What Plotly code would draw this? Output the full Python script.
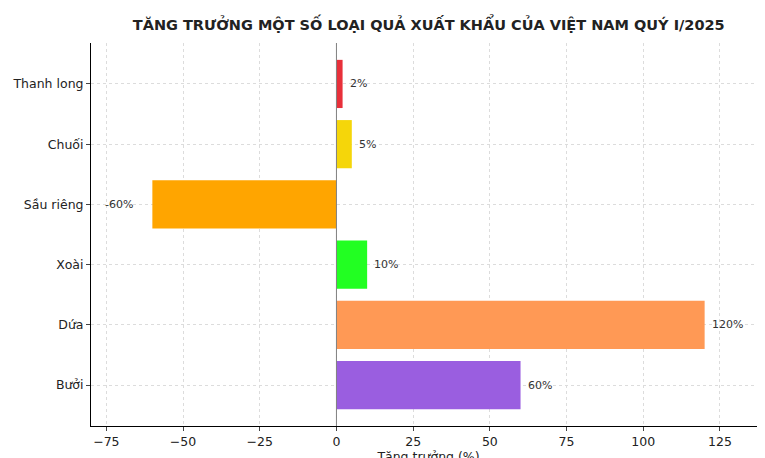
import plotly.graph_objects as go

fruits = ["Bưởi", "Dứa", "Xoài", "Sầu riêng", "Chuối", "Thanh long"]
growth = [60, 120, 10, -60, 5, 2]
colors = ["#9a5ee0", "#ff9955", "#22ff22", "#ffa500", "#f5d60a", "#e8303a"]

fig = go.Figure(go.Bar(y=fruits, x=growth, orientation="h", marker_color=colors,
                       marker_line_width=0, width=0.8))
for f, v in zip(fruits, growth):
    fig.add_annotation(x=v, y=f, text=f"{v}%", showarrow=False,
                       xanchor="left" if v >= 0 else "right",
                       xshift=5 if v >= 0 else -17,
                       font=dict(size=11, color="#333"))
fig.add_vline(x=0, line_color="gray", line_width=1)
fig.update_layout(
    width=765, height=458, margin=dict(l=83, r=7, t=35, b=40, autoexpand=False),
    plot_bgcolor="white", paper_bgcolor="white", showlegend=False,
    font=dict(family="DejaVu Sans", color="#222"),
    title=dict(text="<b>TĂNG TRƯỞNG MỘT SỐ LOẠI QUẢ XUẤT KHẨU CỦA VIỆT NAM QUÝ I/2025</b>",
               x=0.55, xanchor="center", y=0.975, font=dict(size=14.5, color="#222")),
    xaxis=dict(range=[-80, 140], tickvals=[-75, -50, -25, 0, 25, 50, 75, 100, 125],
               ticktext=["−75", "−50", "−25", "0", "25", "50", "75", "100", "125"],
               showgrid=True, gridcolor="#dcdcdc", griddash="3px,3px", gridwidth=0.8,
               zeroline=False, automargin=False,
               showline=True, linecolor="black", ticks="outside", ticklen=4,
               tickfont=dict(size=12.5),
               title=dict(text="Tăng trưởng (%)", font=dict(size=12.5), standoff=2)),
    yaxis=dict(range=[-0.68, 5.68], showgrid=True, gridcolor="#dcdcdc", griddash="3px,3px",
               gridwidth=0.8, automargin=False,
               showline=True, linecolor="black", ticks="outside", ticklen=4,
               tickfont=dict(size=12.5)),
)
fig.write_html("out.html")
